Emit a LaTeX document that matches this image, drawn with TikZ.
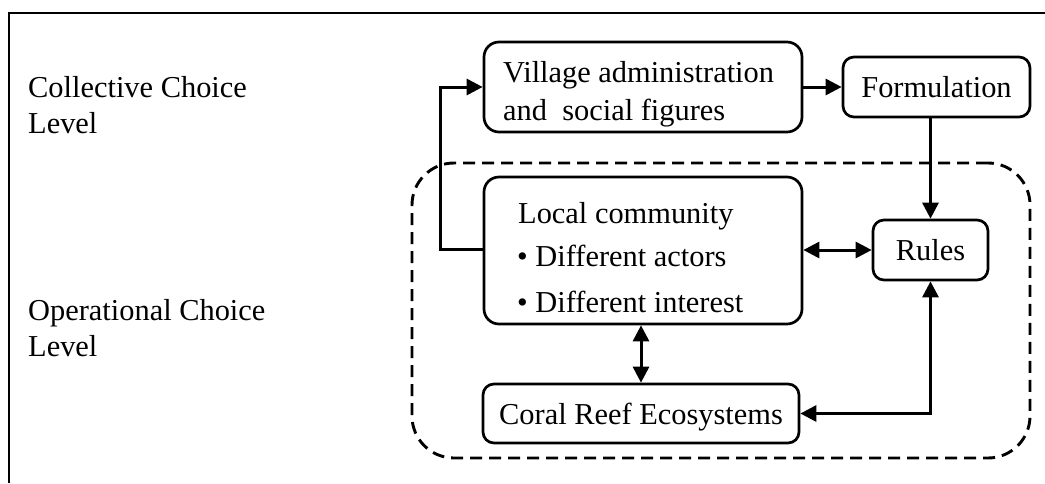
\documentclass[tikz,border=0pt]{standalone}
\usepackage{fontspec}
\setmainfont{Liberation Serif}
\usetikzlibrary{arrows.meta}
\begin{document}
\begin{tikzpicture}[x=1pt,y=-1pt,
  every node/.style={font=\fontsize{30.4}{36}\selectfont},
  boxst/.style={draw, line width=2.7pt, rounded corners=15pt, inner sep=0pt},
  sbox/.style={boxst, rounded corners=11pt, text height=21pt, text depth=0pt},
  txt/.style={inner sep=0pt, anchor=base west},
  conn/.style={line width=3pt, -{Triangle[length=16pt,width=16pt]}},
  dconn/.style={line width=3pt, {Triangle[length=16pt,width=16pt]}-{Triangle[length=16pt,width=16pt]}}]
\useasboundingbox (0,0) rectangle (1045,483);
% frame
\draw[line width=2.2pt] (9,483) -- (9,13) -- (1045,13);
% level labels
\node[txt] (cc1) at (28,97) {Collective Choice};
\node[txt] (cc2) at (28,133) {Level};
\node[txt] (oc1) at (28,320) {Operational Choice};
\node[txt] (oc2) at (28,356) {Level};
% operational container
\node[draw, dash pattern=on 12pt off 7pt, line width=2.9pt, rounded corners=42pt,
      minimum width=618pt, minimum height=295pt, inner sep=0pt] (oplevel) at (721,310.5) {};
% boxes
\node[boxst, minimum width=318pt, minimum height=90pt] (vil) at (643,87) {};
\node[txt] (vil1) at (503,82) {Village administration};
\node[txt] (vil2) at (503,120) {and\ \ social figures};
\node[sbox, minimum width=187pt, minimum height=60pt] (form) at (936.5,87) {Formulation};
\node[boxst, minimum width=318pt, minimum height=147pt] (loc) at (643,250.5) {};
\node[txt] (loc1) at (518,223) {Local community};
\node[txt] (loc2) at (517,266) {• Different actors};
\node[txt] (loc3) at (517,312) {• Different interest};
\node[sbox, minimum width=115pt, minimum height=60pt] (rules) at (930.5,250) {Rules};
\node[sbox, minimum width=316pt, minimum height=59pt] (coral) at (641,413.5) {Coral Reef Ecosystems};
% connectors
\coordinate (lturn) at (440,249);
\draw[conn] (loc.west |- lturn) -- (lturn) |- (vil.west);
\draw[conn] (vil.east) -- (form.west);
\draw[conn] (form.south -| rules.north) -- (rules.north);
\draw[dconn] (loc.east |- rules.west) -- (rules.west);
\draw[dconn] (coral.north) -- (coral.north |- loc.south);
\draw[dconn] (coral.east) -| (rules.south);
\end{tikzpicture}
\end{document}
